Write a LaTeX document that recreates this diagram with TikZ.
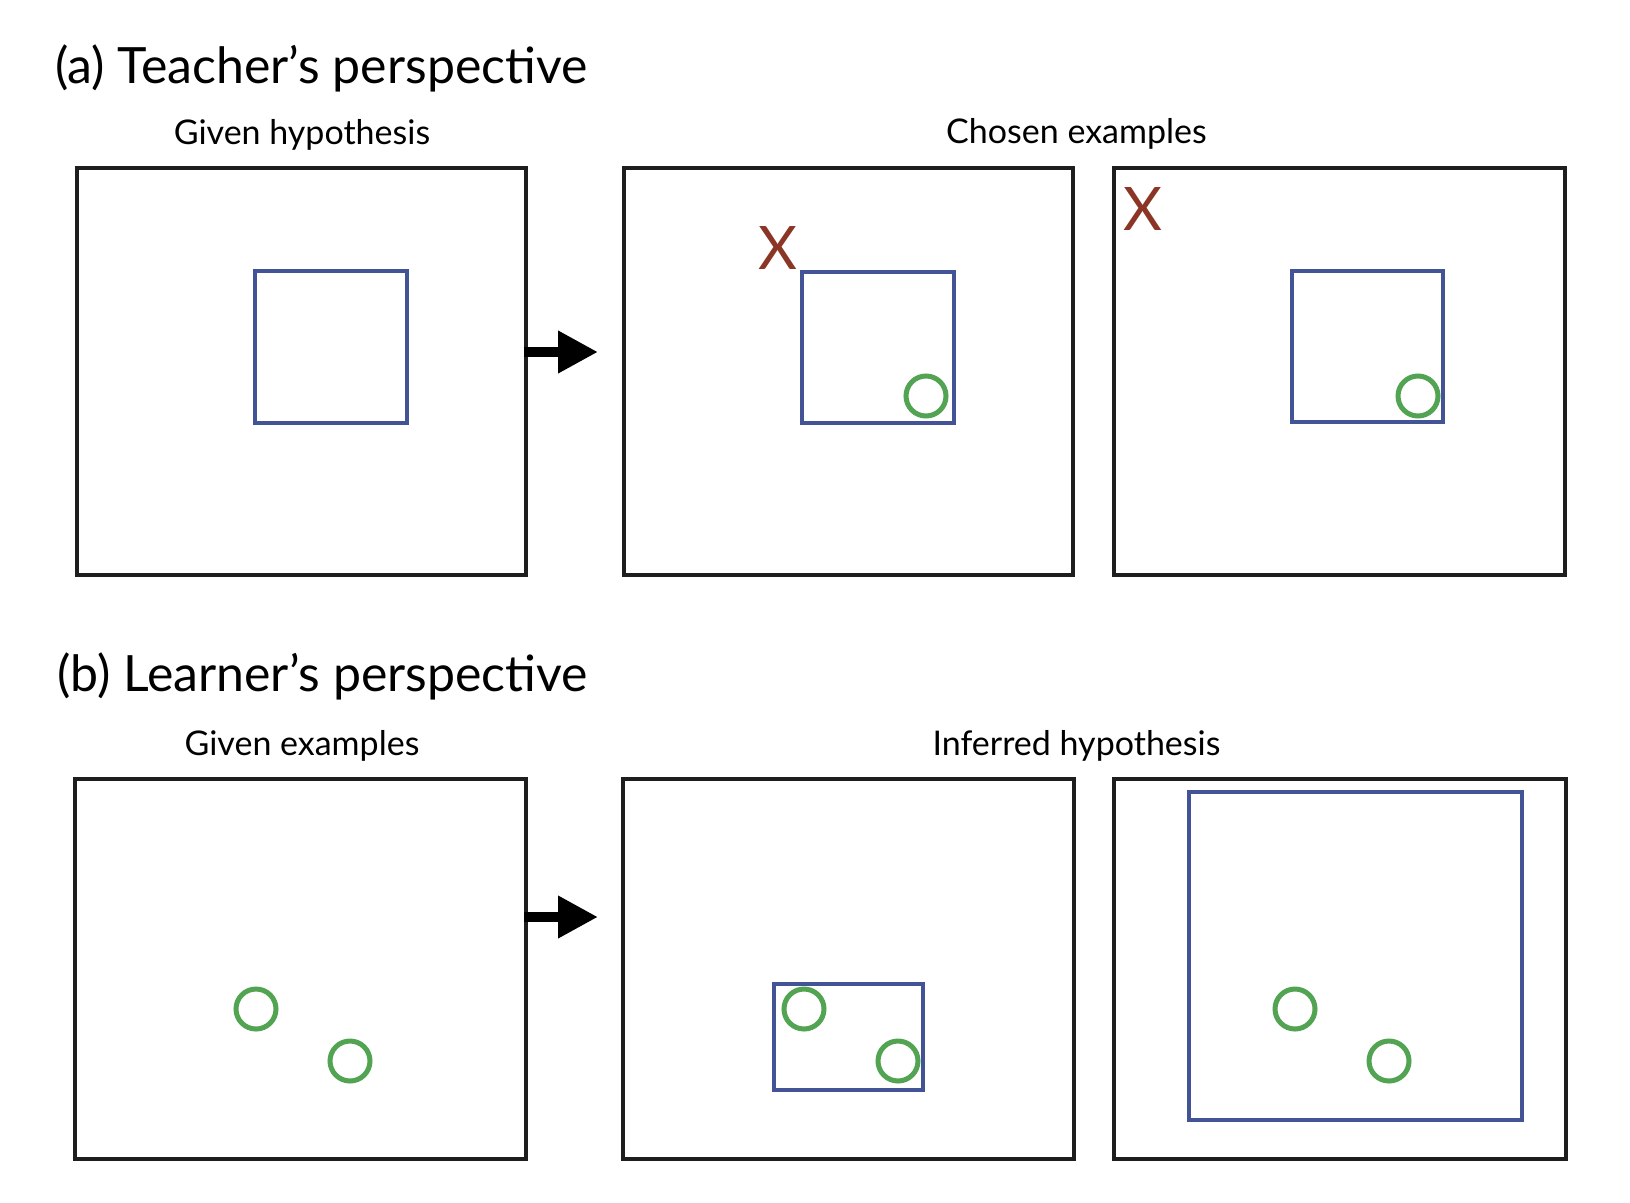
\documentclass[tikz,border=0pt]{standalone}
\usepackage{fontspec}
\setmainfont{Lato}
\usetikzlibrary{arrows.meta}
\definecolor{boxblack}{RGB}{30,30,30}
\definecolor{hypblue}{RGB}{66,84,150}
\definecolor{posgreen}{RGB}{82,163,82}
\definecolor{negred}{RGB}{139,53,38}
\tikzset{
  panel/.style={draw=boxblack, line width=4.5pt, inner sep=0pt, outer sep=0pt},
  hyp/.style={draw=hypblue, line width=4pt, inner sep=0pt, outer sep=0pt},
  posex/.style={circle, draw=posgreen, line width=5pt, minimum size=40pt, inner sep=0pt},
  negex/.style={text=negred, inner sep=0pt, font=\fontsize{60}{60}\selectfont},
  ttl/.style={anchor=base west, inner sep=0pt, font=\fontsize{50}{60}\selectfont},
  lbl/.style={anchor=base, inner sep=0pt, font=\fontsize{34}{40}\selectfont},
  flow/.style={line width=10pt, -{Triangle[length=40pt 0 0, width=40pt 0 0]}}
}
\begin{document}
\begin{tikzpicture}[x=1pt, y=-1pt]
\useasboundingbox[fill=white] (0,0) rectangle (1630,1202);
% titles
\node[ttl] (ta) at (55,83.6) {(a) Teacher’s perspective};
\node[ttl] (tb) at (57,691.7) {(b) Learner’s perspective};
% labels
\node[lbl] (l1) at (302,144) {Given hypothesis};
\node[lbl] (l2) at (1076.5,143) {Chosen examples};
\node[lbl] (l3) at (302,755) {Given examples};
\node[lbl] (l4) at (1076.5,755.5) {Inferred hypothesis};
% top panels
\node[panel, minimum width=449pt, minimum height=407pt] (b1) at (301.5,371.5) {};
\node[panel, minimum width=449pt, minimum height=407pt] (b2) at (848.5,371.5) {};
\node[panel, minimum width=451pt, minimum height=407pt] (b3) at (1339.5,371.5) {};
% bottom panels
\node[panel, minimum width=451pt, minimum height=380pt] (b4) at (300.5,969) {};
\node[panel, minimum width=451pt, minimum height=380pt] (b5) at (848.5,969) {};
\node[panel, minimum width=452pt, minimum height=380pt] (b6) at (1340,969) {};
% hypotheses
\node[hyp, minimum width=152pt, minimum height=152pt] (h1) at (331,347) {};
\node[hyp, minimum width=152pt, minimum height=151pt] (h2) at (878,347.5) {};
\node[hyp, minimum width=151pt, minimum height=151pt] (h3) at (1367.5,346.5) {};
\node[hyp, minimum width=149pt, minimum height=106pt] (h5) at (848.5,1037) {};
\node[hyp, minimum width=333pt, minimum height=328pt] (h6) at (1355.5,956) {};
% examples
\node[negex] (x2) at (778,248.5) {X};
\node[negex] (x3) at (1142.5,209.5) {X};
\node[posex] (p2) at (926,396) {};
\node[posex] (p3) at (1418,396) {};
\node[posex] (p4a) at (256,1009) {};
\node[posex] (p4b) at (350,1061) {};
\node[posex] (p5a) at (804,1009) {};
\node[posex] (p5b) at (898,1061) {};
\node[posex] (p6a) at (1295,1009) {};
\node[posex] (p6b) at (1389,1061) {};
% arrows
\coordinate (a1s) at (524,352);
\coordinate (a1e) at (598,352);
\coordinate (a2s) at (524,917);
\coordinate (a2e) at (598,917);
\draw[flow] (a1s) -- (a1e);
\draw[flow] (a2s) -- (a2e);
\end{tikzpicture}
\end{document}
